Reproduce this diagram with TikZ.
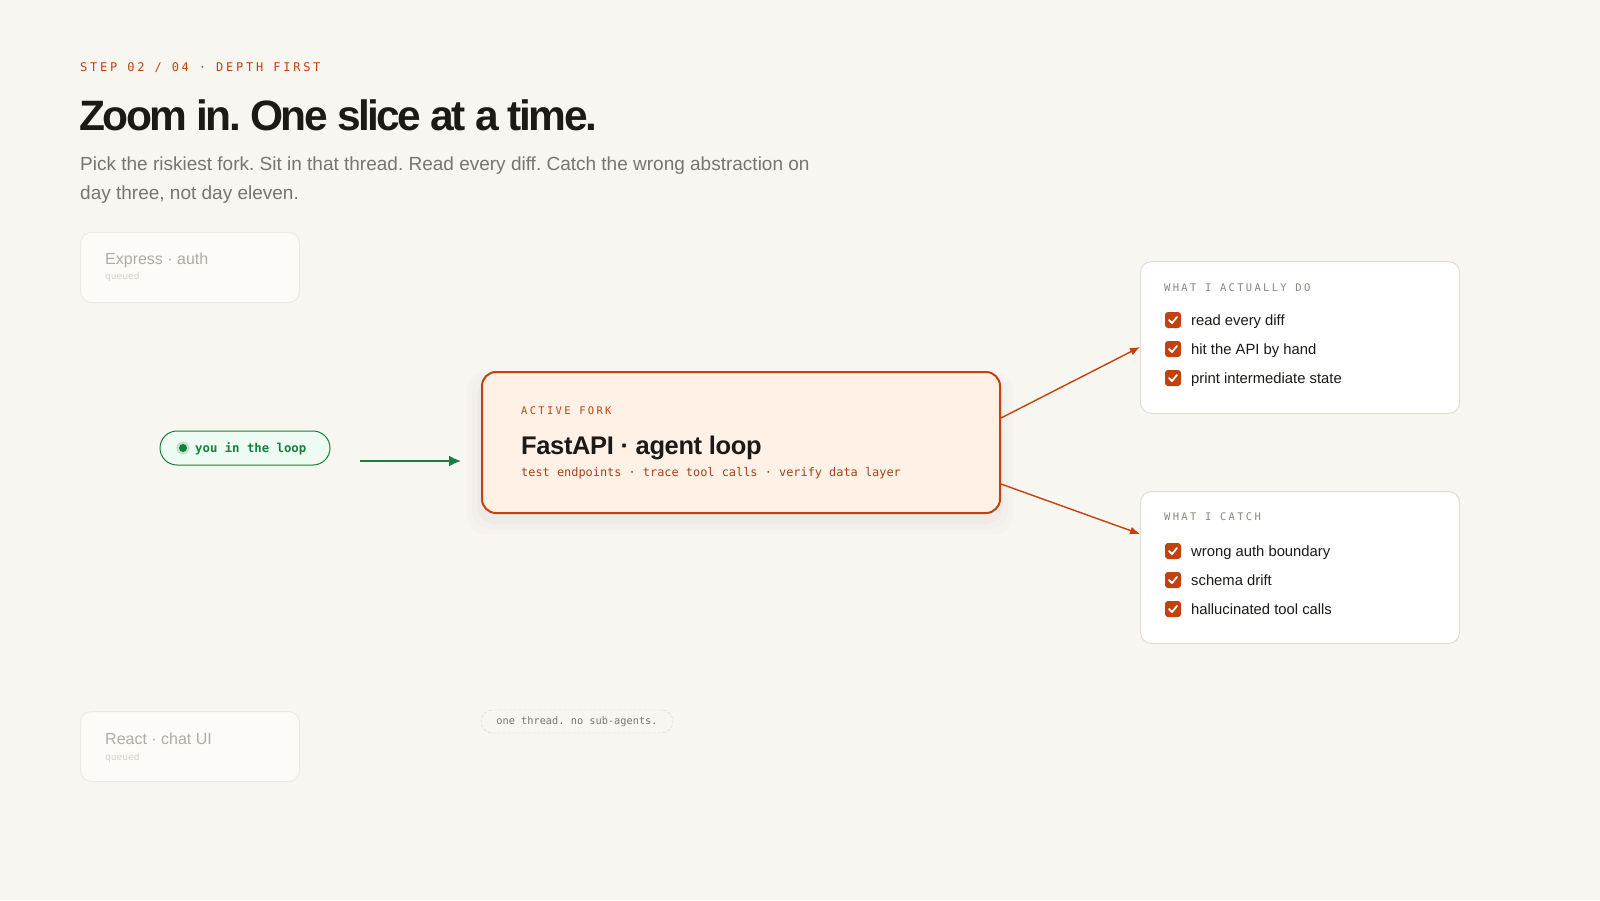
\documentclass[tikz,border=0pt]{standalone}
\usepackage{fontspec}
\setmainfont{Liberation Sans}
\setmonofont{DejaVu Sans Mono}
\usetikzlibrary{calc,positioning,arrows.meta}
\frenchspacing

\definecolor{paper}{HTML}{F8F6F1}
\definecolor{ink}{HTML}{1C1917}
\definecolor{muted}{HTML}{7A746E}
\definecolor{rust}{HTML}{C2410C}
\definecolor{rustdark}{HTML}{A3441A}
\definecolor{forkfill}{HTML}{FFF1E6}
\definecolor{leaf}{HTML}{15803D}
\definecolor{leaffill}{HTML}{EEFBF2}
\definecolor{leafhalo}{HTML}{BFE3CB}
\definecolor{cardline}{HTML}{E3DCD1}
\definecolor{ghostline}{HTML}{EEEAE3}
\definecolor{ghostfill}{HTML}{FCFBF8}
\definecolor{ghosttext}{HTML}{B0ABA4}
\definecolor{ghostsub}{HTML}{D6D2CB}
\definecolor{labelgray}{HTML}{8C8782}
\definecolor{dashline}{HTML}{D4D0CA}

\tikzset{
  card/.style={draw=cardline,fill=white,line width=1pt,rounded corners=11pt,anchor=north west,
    minimum width=319pt,minimum height=152pt,inner sep=0pt},
  ghost/.style={draw=ghostline,fill=ghostfill,line width=1pt,rounded corners=11pt,anchor=north west,
    minimum width=219pt,minimum height=70pt,inner sep=0pt},
  tick/.style={fill=rust,rounded corners=3pt,minimum size=16pt,inner sep=0pt},
  checkline/.style={white,line width=1.8pt,line cap=round,line join=round},
  kicker/.style={anchor=base west,inner sep=0pt,font=\ttfamily\fontsize{10.5}{13}\selectfont\addfontfeature{LetterSpace=22}},
  item/.style={anchor=base west,inner sep=0pt,text=ink,font=\fontsize{14.8}{17}\selectfont},
  txt/.style={anchor=base west,inner sep=0pt},
  flow/.style={line width=1.4pt,-{Latex[length=10pt,width=8pt]}}
}

\begin{document}
\begin{tikzpicture}[x=1pt,y=-1pt]
\fill[paper] (0,0) rectangle (1600,900);
\useasboundingbox (0,0) rectangle (1600,900);

% header
\node[txt,text=rust,font=\ttfamily\fontsize{12}{14}\selectfont\addfontfeature{LetterSpace=23}] (step) at (80,71.5) {STEP 02 / 04 · DEPTH FIRST};
\node[txt,text=ink,font=\bfseries\fontsize{42.5}{48}\selectfont\addfontfeature{LetterSpace=-6}] (title) at (79,130.5) {Zoom in. One slice at a time.};
\node[txt,text=muted,font=\fontsize{19}{22}\selectfont] (sub1) at (80,170.5) {Pick the riskiest fork. Sit in that thread. Read every diff. Catch the wrong abstraction on};
\node[txt,text=muted,font=\fontsize{19}{22}\selectfont] (sub2) at (80,199) {day three, not day eleven.};

% queued forks
\node[ghost] (express) at (80,232) {};
\node[txt,text=ghosttext,font=\fontsize{16}{18}\selectfont] at (105,264) {Express · auth};
\node[txt,text=ghostsub,font=\ttfamily\fontsize{9.5}{12}\selectfont] at (105,279.5) {queued};
\node[ghost] (react) at (80,711) {};
\node[txt,text=ghosttext,font=\fontsize{16}{18}\selectfont] at (105,744) {React · chat UI};
\node[txt,text=ghostsub,font=\ttfamily\fontsize{9.5}{12}\selectfont] at (105,760) {queued};

% active fork
\foreach \g/\o in {14/0.010,9/0.014,4/0.02}
  \fill[black!60!rust,opacity=\o,rounded corners=18pt] (481-\g,371+8-\g/2) rectangle (999+\g,512+\g+8);
\node[draw=rust,fill=forkfill,line width=2pt,rounded corners=14pt,anchor=north west,
  minimum width=518pt,minimum height=141pt,inner sep=0pt] (fork) at (481,371) {};
\node[kicker,text=rust] at (521,414) {ACTIVE FORK};
\node[txt,text=ink,font=\bfseries\fontsize{25.5}{28}\selectfont\addfontfeature{LetterSpace=-1.5}] (forkname) at (521,454) {FastAPI · agent loop};
\node[txt,text=rustdark,font=\ttfamily\fontsize{11.9}{14}\selectfont] at (521,476.5) {test endpoints · trace tool calls · verify data layer};

% you
\node[draw=leaf,fill=leaffill,line width=1pt,rounded corners=17pt,minimum width=170pt,minimum height=34pt,inner sep=0pt] (you) at (245,448) {};
\fill[leafhalo] (183,448) circle (6.5pt);
\fill[leaf] (183,448) circle (4pt);
\node[txt,text=leaf,font=\ttfamily\bfseries\fontsize{12.3}{14}\selectfont] (youtxt) at (195,452.5) {you in the loop};
\coordinate (handoff) at (360,461);
\draw[leaf,line width=2pt,-{Latex[length=12pt,width=11pt]},shorten >=20pt] (handoff) -- (fork.west |- handoff);

% what I do / catch
\node[card] (doCard) at (1140,261) {};
\node[kicker,text=labelgray] at (1164,291) {WHAT I ACTUALLY DO};
\foreach \t [count=\i] in {read every diff,hit the API by hand,print intermediate state}{
  \node[tick] (do\i) at (1173,291+\i*29) {};
  \draw[checkline] ($(do\i.center)+(-4,0)$) -- ++(3,3) -- ++(5,-6);
  \node[item] at ($(do\i.center)+(18,5)$) {\t};
}
\node[card] (catchCard) at (1140,491) {};
\node[kicker,text=labelgray] at (1164,520) {WHAT I CATCH};
\foreach \t [count=\i] in {wrong auth boundary,schema drift,hallucinated tool calls}{
  \node[tick] (catch\i) at (1173,522+\i*29) {};
  \draw[checkline] ($(catch\i.center)+(-4,0)$) -- ++(3,3) -- ++(5,-6);
  \node[item] at ($(catch\i.center)+(18,5)$) {\t};
}
\draw[flow,rust] ($(fork.north east)+(0,47)$) -- ($(doCard.north west)+(0,86)$);
\draw[flow,rust] ($(fork.north east)+(0,113)$) -- ($(catchCard.north west)+(0,43)$);

% note
\node[draw=dashline,dash pattern=on 3pt off 2pt,rounded corners=11.5pt,minimum width=192pt,minimum height=23pt,
  inner sep=0pt,text=muted,font=\ttfamily\fontsize{10.3}{12}\selectfont] (note) at (577,721.5) {one thread. no sub-agents.};
\end{tikzpicture}
\end{document}
